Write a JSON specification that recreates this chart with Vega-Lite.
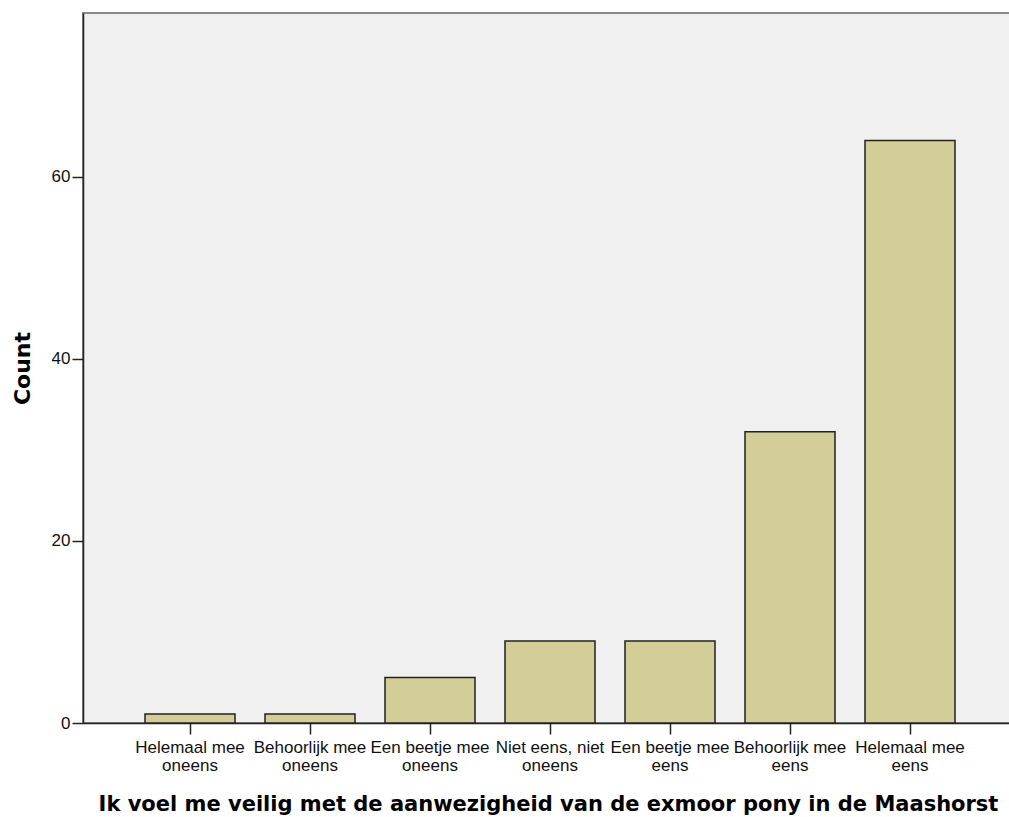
{
  "$schema": "https://vega.github.io/schema/vega-lite/v6.json",
  "autosize": "none",
  "width": 930,
  "height": 710,
  "padding": {"left": 83, "top": 13, "right": 0, "bottom": 94},
  "background": "white",
  "config": {
    "view": {"fill": "#f0f0f0", "stroke": "#8a8a8a", "strokeWidth": 2},
    "axis": {"grid": false}
  },
  "data": {
    "values": [
      {"antwoord": "Helemaal mee oneens", "count": 1},
      {"antwoord": "Behoorlijk mee oneens", "count": 1},
      {"antwoord": "Een beetje mee oneens", "count": 5},
      {"antwoord": "Niet eens, niet oneens", "count": 9},
      {"antwoord": "Een beetje mee eens", "count": 9},
      {"antwoord": "Behoorlijk mee eens", "count": 32},
      {"antwoord": "Helemaal mee eens", "count": 64}
    ]
  },
  "mark": {"type": "bar", "fill": "#d3ce97", "stroke": "#222222", "strokeWidth": 1.5},
  "encoding": {
    "x": {
      "field": "antwoord",
      "type": "nominal",
      "scale": {
        "domain": ["Helemaal mee oneens", "Behoorlijk mee oneens", "Een beetje mee oneens", "Niet eens, niet oneens", "Een beetje mee eens", "Behoorlijk mee eens", "Helemaal mee eens"],
        "paddingInner": 0.25,
        "paddingOuter": 0.5,
        "align": 0.5167
      },
      "axis": {
        "title": "Ik voel me veilig met de aanwezigheid van de exmoor pony in de Maashorst",
        "titleFont": "DejaVu Sans",
        "titleFontWeight": "bold",
        "titleFontSize": 21,
        "titleColor": "#000000",
        "titlePadding": 20,
        "labelAngle": 0,
        "labelExpr": "[substring(datum.label, 0, lastindexof(datum.label, ' ')), substring(datum.label, lastindexof(datum.label, ' ') + 1)]",
        "labelFont": "Liberation Sans",
        "labelFontSize": 17,
        "labelLineHeight": 18,
        "labelColor": "#111111",
        "labelPadding": 5,
        "labelOverlap": false,
        "labelLimit": 0,
        "tickSize": 11,
        "tickColor": "#222222",
        "tickWidth": 1.5,
        "domainColor": "#222222",
        "domainWidth": 1.5
      }
    },
    "y": {
      "field": "count",
      "type": "quantitative",
      "scale": {"domain": [0, 78], "nice": false},
      "axis": {
        "title": "Count",
        "titleFont": "DejaVu Sans",
        "titleFontWeight": "bold",
        "titleFontSize": 22,
        "titleColor": "#000000",
        "titlePadding": 17,
        "values": [0, 20, 40, 60],
        "labelFont": "Liberation Sans",
        "labelFontSize": 17,
        "labelColor": "#111111",
        "labelPadding": 2,
        "tickSize": 11,
        "tickColor": "#222222",
        "tickWidth": 1.5,
        "domainColor": "#222222",
        "domainWidth": 1.5
      }
    }
  }
}
